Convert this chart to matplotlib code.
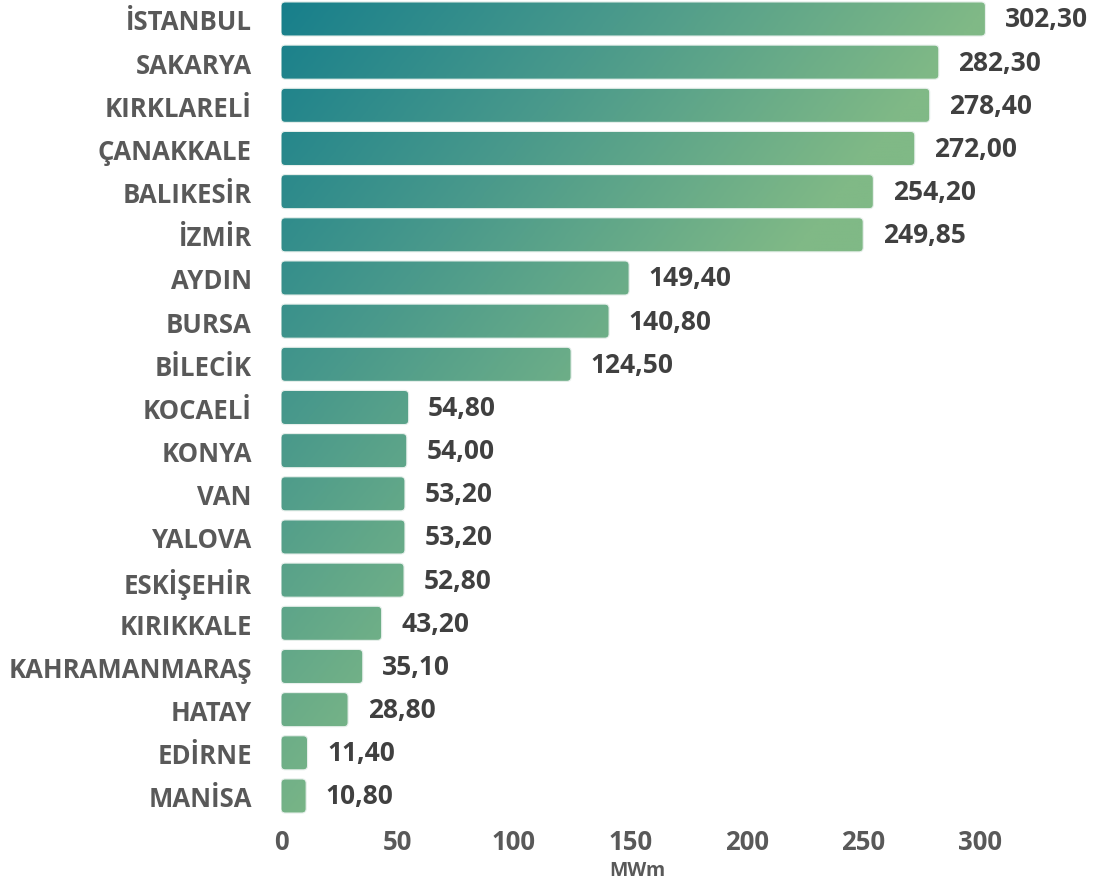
import numpy as np
import matplotlib
matplotlib.use("Agg")
import matplotlib.pyplot as plt
from matplotlib.patches import FancyBboxPatch
from matplotlib.colors import LinearSegmentedColormap

# veriler
cities = ["İSTANBUL", "SAKARYA", "KIRKLARELİ", "ÇANAKKALE", "BALIKESİR", "İZMİR",
          "AYDIN", "BURSA", "BİLECİK", "KOCAELİ", "KONYA", "VAN", "YALOVA",
          "ESKİŞEHİR", "KIRIKKALE", "KAHRAMANMARAŞ", "HATAY", "EDİRNE", "MANİSA"]
values = [302.30, 282.30, 278.40, 272.00, 254.20, 249.85, 149.40, 140.80, 124.50,
          54.80, 54.00, 53.20, 53.20, 52.80, 43.20, 35.10, 28.80, 11.40, 10.80]
xticks = [0, 50, 100, 150, 200, 250, 300]
xlabel = "MWm"

plt.rcParams['font.family'] = ['Open Sans', 'DejaVu Sans']

fig = plt.figure(figsize=(10.95, 8.87), dpi=100)
ax = fig.add_axes([281/1095, 1-818/887, 769/1095, 818/887])

n = len(cities)
ytop, ybot = -0.463, n - 1 + 0.487
xmax = 330
bar_h = 0.79

# tum grafik icin tek bir capraz gradyan
cmap = LinearSegmentedColormap.from_list("g", ["#177f8c", "#4b9a8b", "#80b986"])
gx = np.linspace(0, 1, 400)
gy = np.linspace(0, 1, 400)
GX, GY = np.meshgrid(gx, gy)
grad = np.clip(GX * 1.0 + GY * 0.9, 0, 1)

px_x = 769 / xmax
px_y = 818 / (ybot - ytop)
asp = px_x / px_y

for i, v in enumerate(values):
    box = FancyBboxPatch((0, i - bar_h/2), v, bar_h,
                         boxstyle="round,pad=0,rounding_size=1.8",
                         mutation_aspect=asp, facecolor="none",
                         edgecolor="#e8f0ec", linewidth=0.8)
    ax.add_patch(box)
    im = ax.imshow(grad, cmap=cmap, extent=(0, 305, ybot, ytop),
                   origin="upper", aspect="auto", interpolation="bilinear")
    im.set_clip_path(box)
    ax.annotate(f"{v:.2f}".replace(".", ","), (v, i), xytext=(14, 0),
                textcoords="offset points", va="center", ha="left",
                fontsize=19, fontweight="bold", color="#404040",
                annotation_clip=False)

ax.set_xlim(0, xmax)
ax.set_ylim(ybot, ytop)
ax.set_yticks(range(n))
ax.set_yticklabels(cities, fontsize=18.5, fontweight="bold", color="#595959")
ax.set_xticks(xticks)
ax.set_xticklabels([str(t) for t in xticks], fontsize=18.5, fontweight="bold",
                   color="#595959")
ax.tick_params(length=0)
ax.tick_params(axis="y", pad=21)
ax.tick_params(axis="x", pad=8)
for s in ax.spines.values():
    s.set_visible(False)

fig.text(637/1095, 1-871/887, xlabel, ha="center", va="center",
         fontsize=14, fontweight="bold", color="#595959")

fig.savefig("out.png", dpi=100)
